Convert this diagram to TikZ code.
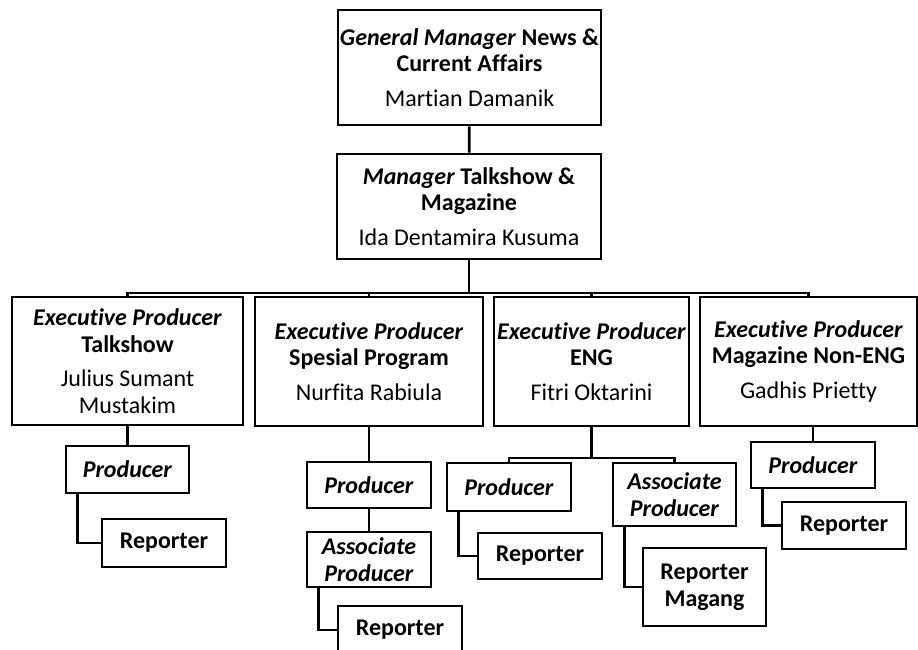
\documentclass[tikz,border=0pt]{standalone}
\usepackage{fontspec}
\setmainfont[Ligatures=NoCommon]{Carlito}
\usepackage{tikz}
\usetikzlibrary{positioning}
\tikzset{orgbox/.style = {draw,line width=2.8pt,fill=white,align=center,inner sep=0pt,
	font=\fontsize{24}{26.5}\selectfont},
	orglink/.style = {draw,line width=2.8pt}}
\NewDocumentCommand{\elbowlink}{m m}{%
	\draw[orglink] ([xshift=13pt]#1.south west) |- (#2.west);
}

\begin{document}
\begin{tikzpicture}[x=1pt,y=-1pt]
\useasboundingbox (0,0) rectangle (918,650);
% top of the chart
\node[orgbox,minimum width=263pt,minimum height=115pt] (gm) at (469.5,67.5)
	{\textbf{\textit{General Manager} News \&}\\ \textbf{Current Affairs}\\[8pt] Martian Damanik};
\node[orgbox,minimum width=264pt,minimum height=105pt] (mgr) at (469,206.5)
	{\textbf{\textit{Manager} Talkshow \&}\\ \textbf{Magazine}\\[8pt] Ida Dentamira Kusuma};
% executive producers
\node[orgbox,minimum width=231pt,minimum height=128pt] (ept) at (127.5,361)
	{\textbf{\textit{Executive Producer}}\\ \textbf{Talkshow}\\[8pt] Julius Sumant\\ Mustakim};
\node[orgbox,minimum width=228pt,minimum height=129pt] (eps) at (369,361.5)
	{\textbf{\textit{Executive Producer}}\\ \textbf{Spesial Program}\\[8pt] Nurfita Rabiula};
\node[orgbox,minimum width=195pt,minimum height=129pt] (epe) at (591.5,361.5)
	{\textbf{\textit{Executive Producer}}\\ \textbf{ENG}\\[8pt] Fitri Oktarini};
\node[orgbox,minimum width=217pt,minimum height=129pt] (epm) at (808.5,361.5)
	{\textbf{\textit{Executive Producer}}\\ \textbf{Magazine Non-ENG}\\[8pt] Gadhis Prietty};
% talkshow
\node[orgbox,minimum width=123pt,minimum height=47pt] (prodt) at (127.5,469.5) {\textbf{\textit{Producer}}};
\node[orgbox,minimum width=124pt,minimum height=48pt] (rept) at (164,543) {\textbf{Reporter}};
% spesial program
\node[orgbox,minimum width=124pt,minimum height=46pt] (prods) at (369,485) {\textbf{\textit{Producer}}};
\node[orgbox,minimum width=124pt,minimum height=55pt] (assocs) at (369,559.5)
	{\textbf{\textit{Associate}}\\ \textbf{\textit{Producer}}};
\node[orgbox,minimum width=124pt,minimum height=48pt] (reps) at (400,630) {\textbf{Reporter}};
% eng
\node[orgbox,minimum width=124pt,minimum height=48pt] (prode) at (509,487) {\textbf{\textit{Producer}}};
\node[orgbox,minimum width=124pt,minimum height=46pt] (repe) at (540,556) {\textbf{Reporter}};
\node[orgbox,minimum width=123pt,minimum height=63pt] (assoce) at (674.5,494.5)
	{\textbf{\textit{Associate}}\\ \textbf{\textit{Producer}}};
\node[orgbox,minimum width=123pt,minimum height=78pt] (mage) at (704.5,587)
	{\textbf{Reporter}\\ \textbf{Magang}};
% magazine non-eng
\node[orgbox,minimum width=124pt,minimum height=46pt] (prodm) at (813,465) {\textbf{\textit{Producer}}};
\node[orgbox,minimum width=124pt,minimum height=47pt] (repm) at (844,525.5) {\textbf{Reporter}};

\coordinate (bus) at (469,293);
\coordinate (fork) at (591.5,458);

\draw[orglink] (gm) -- (mgr);
\foreach \ep in {ept,eps,epe,epm}
	\draw[orglink] (mgr.south) -- (mgr.south |- bus) -| (\ep.north);
\draw[orglink] (ept) -- (prodt);
\draw[orglink] (eps) -- (prods);
\draw[orglink] (prods) -- (assocs);
\draw[orglink] (epe.south) -- (epe.south |- fork) -| (prode.north);
\draw[orglink] (epe.south) -- (epe.south |- fork) -| (assoce.north);
\draw[orglink] (prodm.north) -- (prodm.north |- epm.south);
\elbowlink{prodt}{rept}
\elbowlink{assocs}{reps}
\elbowlink{prode}{repe}
\elbowlink{assoce}{mage}
\elbowlink{prodm}{repm}
\end{tikzpicture}
\end{document}
